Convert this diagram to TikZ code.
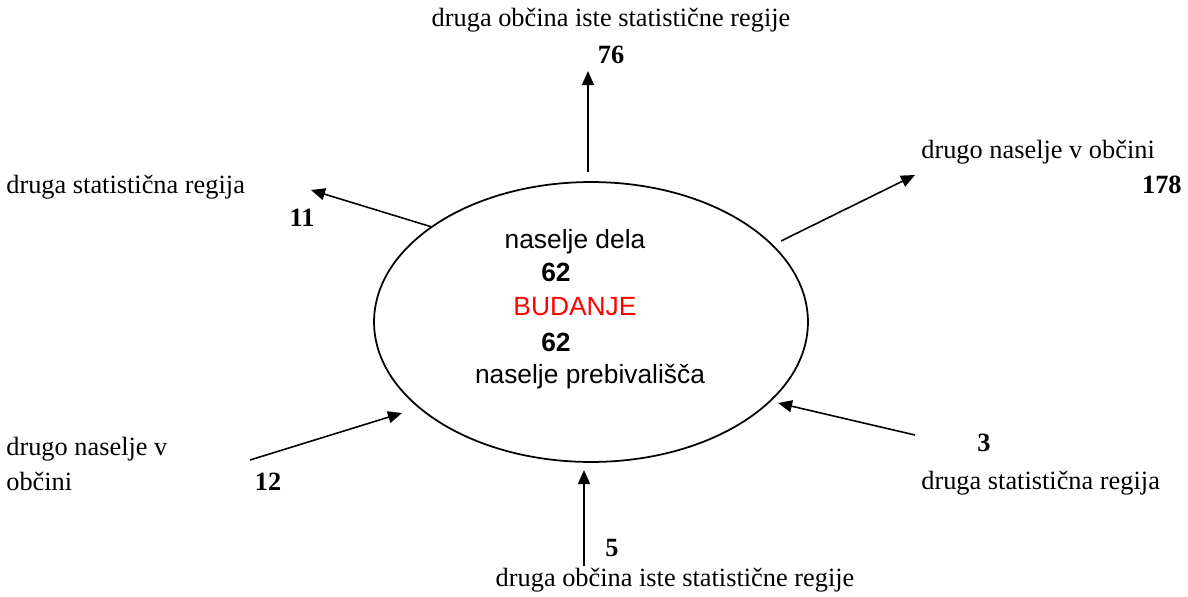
\documentclass[tikz,border=0pt]{standalone}
\usepackage{fontspec}
\setmainfont{Liberation Serif}
\setsansfont{Liberation Sans}
\usetikzlibrary{arrows.meta,positioning,shapes.geometric}
\definecolor{budred}{RGB}{255,0,0}

\begin{document}
\begin{tikzpicture}[
  x=0.02cm, y=-0.02cm,
  lbl/.style={inner sep=0pt, font=\fontsize{15}{20}\selectfont, align=left},
  num/.style={inner sep=0pt, font=\fontsize{15}{18}\selectfont\bfseries},
  inlbl/.style={inner sep=0pt, font=\fontsize{15}{18}\sffamily},
  arrow/.style={-{Triangle[length=8pt,width=6.8pt]}, line width=0.9pt}
]
  \useasboundingbox (0,0) rectangle (1188,596);
  % ellipse in the middle
  \node[draw, ellipse, line width=1pt, inner sep=0pt, minimum width=8.68cm, minimum height=5.6cm] (bud) at (591,322) {};
  \node[inlbl] (dela) at (575,242) {naselje dela};
  \node[inlbl, font=\fontsize{15}{18}\sffamily\bfseries] (n62a) at (556,272) {62};
  \node[inlbl, text=budred] (name) at (575,307) {BUDANJE};
  \node[inlbl, font=\fontsize{15}{18}\sffamily\bfseries] (n62b) at (556,342) {62};
  \node[inlbl] (preb) at (590,377) {naselje prebivališča};

  % outgoing
  \node[lbl] (obcup) at (611,20) {druga občina iste statistične regije};
  \node[num] (n76) at (611,55) {76};
  \node[lbl, anchor=west] (nasr) at (921,152) {drugo naselje v občini};
  \node[num, anchor=east] (n178) at (1182,185) {178};
  \node[lbl, anchor=west] (regl) at (6,187) {druga statistična regija};
  \node[num] (n11) at (302,218) {11};

  % incoming
  \node[lbl, anchor=west] (nasl) at (6,464) {drugo naselje v\\občini};
  \node[num] (n12) at (268,482) {12};
  \node[num] (n5) at (612,548) {5};
  \node[lbl] (obcdn) at (675,580) {druga občina iste statistične regije};
  \node[num] (n3) at (984,443) {3};
  \node[lbl, anchor=west] (regr) at (921,483) {druga statistična regija};

  \coordinate (upA) at (588,172);   \coordinate (upB) at (588,71);
  \coordinate (trA) at (781,241);   \coordinate (trB) at (915,175);
  \coordinate (tlA) at (432,227);   \coordinate (tlB) at (311,190);
  \coordinate (blA) at (250,460);   \coordinate (blB) at (402,413);
  \coordinate (dnA) at (584,566);   \coordinate (dnB) at (584,470);
  \coordinate (brA) at (915,435);   \coordinate (brB) at (778,403);

  \draw[arrow] (upA) -- (upB);
  \draw[arrow] (trA) -- (trB);
  \draw[arrow] (tlA) -- (tlB);
  \draw[arrow] (blA) -- (blB);
  \draw[arrow] (dnA) -- (dnB);
  \draw[arrow] (brA) -- (brB);
\end{tikzpicture}
\end{document}
